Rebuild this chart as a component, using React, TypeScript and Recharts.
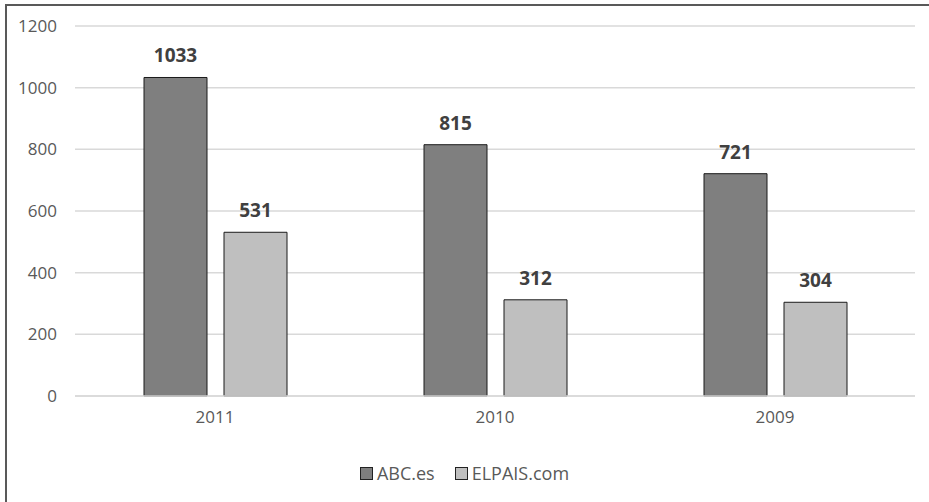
import { Bar, BarChart, CartesianGrid, LabelList, XAxis, YAxis } from "recharts";

const years = ["2011", "2010", "2009"];
const abcValues = [1033, 815, 721];
const elpaisValues = [531, 312, 304];
const yTicks = [0, 200, 400, 600, 800, 1000, 1200];

const data = years.map((year, i) => ({
  year,
  abc: abcValues[i],
  elpais: elpaisValues[i],
}));

const series = [
  { key: "abc", name: "ABC.es", color: "#7f7f7f" },
  { key: "elpais", name: "ELPAIS.com", color: "#bfbfbf" },
];

const font = "'Open Sans', 'Liberation Sans', sans-serif";

const LegendContent = () => (
  <div
    style={{
      position: "absolute",
      left: 0,
      top: 461,
      width: 929,
      display: "flex",
      justifyContent: "center",
      gap: 20,
      fontFamily: font,
      fontSize: 18,
      color: "#595959",
      lineHeight: "24px",
    }}
  >
    {series.map((s) => (
      <div key={s.key} style={{ display: "flex", alignItems: "center", gap: 4 }}>
        <span style={{ display: "inline-block", width: 11, height: 11, background: s.color, border: "1px solid #222" }} />
        <span>{s.name}</span>
      </div>
    ))}
  </div>
);

export default function App() {
  return (
    <div style={{ position: "absolute", left: 0, top: 0, width: 929, height: 502, background: "#fff", overflow: "hidden" }}>
      <div
        style={{
          position: "absolute",
          left: 5,
          top: 4,
          width: 940,
          height: 520,
          borderLeft: "2px solid #595959",
          borderTop: "2px solid #595959",
        }}
      />
      <BarChart
        width={929}
        height={502}
        data={data}
        margin={{ top: 26, right: 14, bottom: 66, left: 0 }}
        barSize={63}
        barGap={17}
        style={{ position: "absolute", left: 0, top: 0 }}
      >
        <CartesianGrid vertical={false} stroke="#d9d9d9" strokeWidth={1.5} />
        <XAxis
          dataKey="year"
          height={40}
          tickLine={false}
          axisLine={{ stroke: "#d9d9d9", strokeWidth: 1.5 }}
          tick={{ fill: "#595959", fontSize: 17, fontFamily: font }}
          tickMargin={15}
          tickSize={0}
        />
        <YAxis
          width={75}
          domain={[0, 1200]}
          ticks={yTicks}
          axisLine={false}
          tickLine={false}
          tickSize={0}
          tickMargin={18}
          tick={{ fill: "#595959", fontSize: 17, fontFamily: font }}
        />
        {series.map((s) => (
          <Bar
            key={s.key}
            dataKey={s.key}
            name={s.name}
            fill={s.color}
            stroke="#1a1a1a"
            strokeWidth={1}
            isAnimationActive={false}
          >
            <LabelList
              dataKey={s.key}
              position="top"
              offset={15}
              style={{ fill: "#404040", fontSize: 19, fontWeight: 700, fontFamily: font }}
            />
          </Bar>
        ))}
      </BarChart>
      <LegendContent />
    </div>
  );
}
